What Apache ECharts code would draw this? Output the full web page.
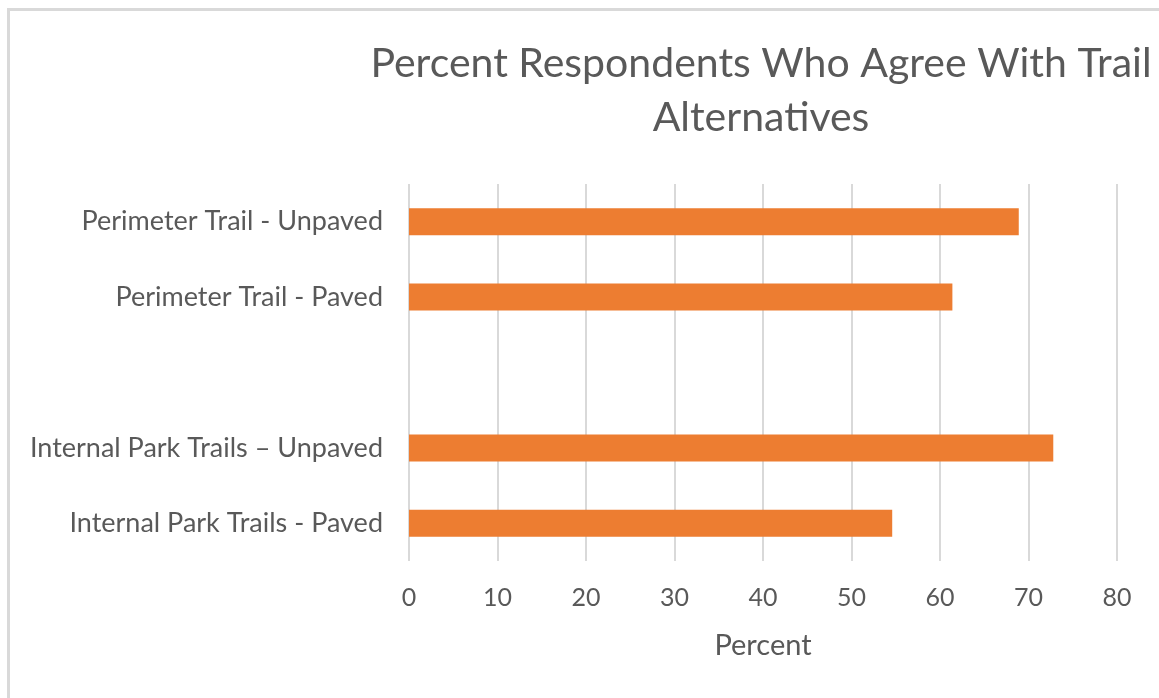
<!DOCTYPE html>
<html>
<head>
<meta charset="utf-8">
<script src="https://cdn.jsdelivr.net/npm/echarts@6/dist/echarts.min.js"></script>
<style>
  html, body { margin: 0; padding: 0; background: #fff; }
  #chart { width: 1159px; height: 698px; }
</style>
</head>
<body>
<div id="chart"></div>
<script>
const categories = [
  'Perimeter Trail - Unpaved',
  'Perimeter Trail - Paved',
  '',
  'Internal Park Trails \u2013 Unpaved',
  'Internal Park Trails - Paved'
];
const percentValues = [68.9, 61.4, null, 72.8, 54.6];
const xTicks = { min: 0, max: 80, interval: 10 };
const titleText = 'Percent Respondents Who Agree With Trail\nAlternatives';
const xAxisName = 'Percent';

const FONT = 'Lato';
const chart = echarts.init(document.getElementById('chart'));
chart.setOption({
  animation: false,
  backgroundColor: '#ffffff',
  title: {
    text: titleText,
    left: 761,
    top: 37,
    padding: 0,
    textAlign: 'center',
    textStyle: {
      fontFamily: FONT,
      fontWeight: 'normal',
      fontSize: 41,
      lineHeight: 54,
      color: '#595959'
    }
  },
  graphic: [
    { type: 'line', shape: { x1: 8.5, y1: 9, x2: 8.5, y2: 698 }, style: { stroke: '#d9d9d9', lineWidth: 3 } },
    { type: 'line', shape: { x1: 7, y1: 9.5, x2: 1159, y2: 9.5 }, style: { stroke: '#d9d9d9', lineWidth: 3 } }
  ],
  grid: { left: 409, right: 42, top: 184, bottom: 137, containLabel: false },
  xAxis: {
    type: 'value',
    min: xTicks.min,
    max: xTicks.max,
    interval: xTicks.interval,
    name: xAxisName,
    nameLocation: 'middle',
    nameGap: 70,
    nameTextStyle: { fontFamily: FONT, fontSize: 29, color: '#595959' },
    axisLine: { show: false },
    axisTick: { show: false },
    axisLabel: { fontFamily: FONT, fontSize: 25, color: '#595959', margin: 24 },
    splitLine: { show: true, lineStyle: { color: '#d9d9d9', width: 2 } }
  },
  yAxis: {
    type: 'category',
    data: categories,
    inverse: true,
    axisLine: { show: false },
    axisTick: { show: false },
    axisLabel: { fontFamily: FONT, fontSize: 27, color: '#595959', margin: 26 },
    splitLine: { show: false }
  },
  series: [{
    type: 'bar',
    data: percentValues,
    barWidth: 27,
    itemStyle: { color: '#ED7D31' }
  }]
});
</script>
</body>
</html>
